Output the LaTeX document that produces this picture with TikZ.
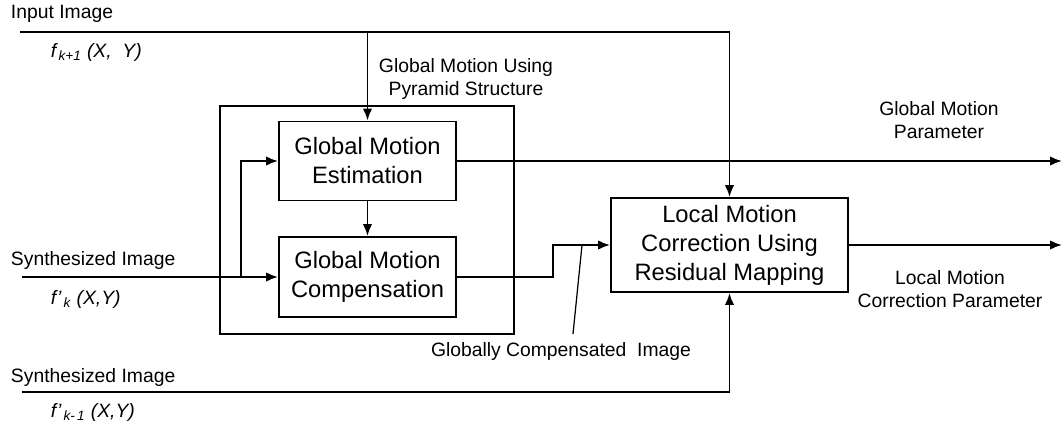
\documentclass[tikz,border=0pt]{standalone}
\usepackage{fontspec}
\setmainfont{Liberation Sans}
\usetikzlibrary{positioning, arrows.meta, calc}

\begin{document}
\begin{tikzpicture}[x=0.02cm, y=-0.02cm, line width=1.1pt,
    >={Latex[length=2.4mm, width=1.9mm]},
    every node/.style={font=\fontsize{11}{13.4}\selectfont},
    block/.style={draw, line width=1.1pt, align=center, inner sep=2pt,
        font=\fontsize{13.5}{16.5}\selectfont},
    lbl/.style={anchor=west, inner sep=0pt},
    note/.style={align=center, inner sep=0pt}]
    \useasboundingbox (0,0) rectangle (1064,426);

    % Blocks
    \node[block, minimum width=3.54cm, minimum height=1.58cm] (gme) at (367.5,161) {Global Motion\\Estimation};
    \node[block, minimum width=3.54cm, minimum height=1.6cm] (gmc) at (367.5,277) {Global Motion\\Compensation};
    \node[block, minimum width=4.74cm, minimum height=1.88cm] (lmc) at (729.5,245) {Local Motion\\Correction Using\\Residual Mapping};

    % Pyramid frame
    \draw[line width=0.6pt] (220,106) rectangle (514,334);

    % Inputs
    \coordinate (inp) at (20,32);
    \coordinate (syn) at (22,277);
    \coordinate (synb) at (22,392);
    \coordinate (tap) at (241,277);

    \node[lbl] (inlbl) at (10,14) {Input Image};
    \node[lbl] (infn) at (50,52) {\itshape f\textsubscript{\,k+1} (X,~ Y)};
    \node[lbl] (synlbl) at (10,260) {Synthesized Image};
    \node[lbl] (synfn) at (50,299) {\itshape f'\textsubscript{\,k} (X,Y)};
    \node[lbl] (synblbl) at (10,377) {Synthesized Image};
    \node[lbl] (synbfn) at (50,412) {\itshape f'\textsubscript{\,k-\,1} (X,Y)};

    % Notes
    \node[note] (pyr) at (466,79) {Global Motion Using\\Pyramid Structure};
    \node[note] (gmp) at (939,120) {Global Motion\\Parameter};
    \node[note] (lcp) at (950,289) {Local Motion\\Correction Parameter};
    \node[note] (gci) at (561,351) {Globally Compensated~ Image};

    % Connections
    \draw[->] (inp) -| (lmc.north);
    \draw[->] (gme.north |- inp) -- (gme.north);
    \draw[->] (gme) -- (gmc);
    \draw[->] (syn) -- (gmc.west);
    \draw[->] (tap) |- (gme.west);
    \coordinate (jog) at (553,245);
    \draw[->] (gmc.east) -| (jog) -- (lmc.west);
    \draw[->] (synb) -| (lmc.south);

    % Outputs
    \coordinate (gmout) at (1062,161);
    \coordinate (lcout) at (1062,245);
    \draw[->] (gme.east) -- (gmout);
    \draw[->] (lmc.east) -- (lcout);

    % Leader
    \coordinate (lead) at (573,334);
    \coordinate (leadend) at (582,245);
    \draw[line width=0.7pt] (lead) -- (leadend);
\end{tikzpicture}
\end{document}
